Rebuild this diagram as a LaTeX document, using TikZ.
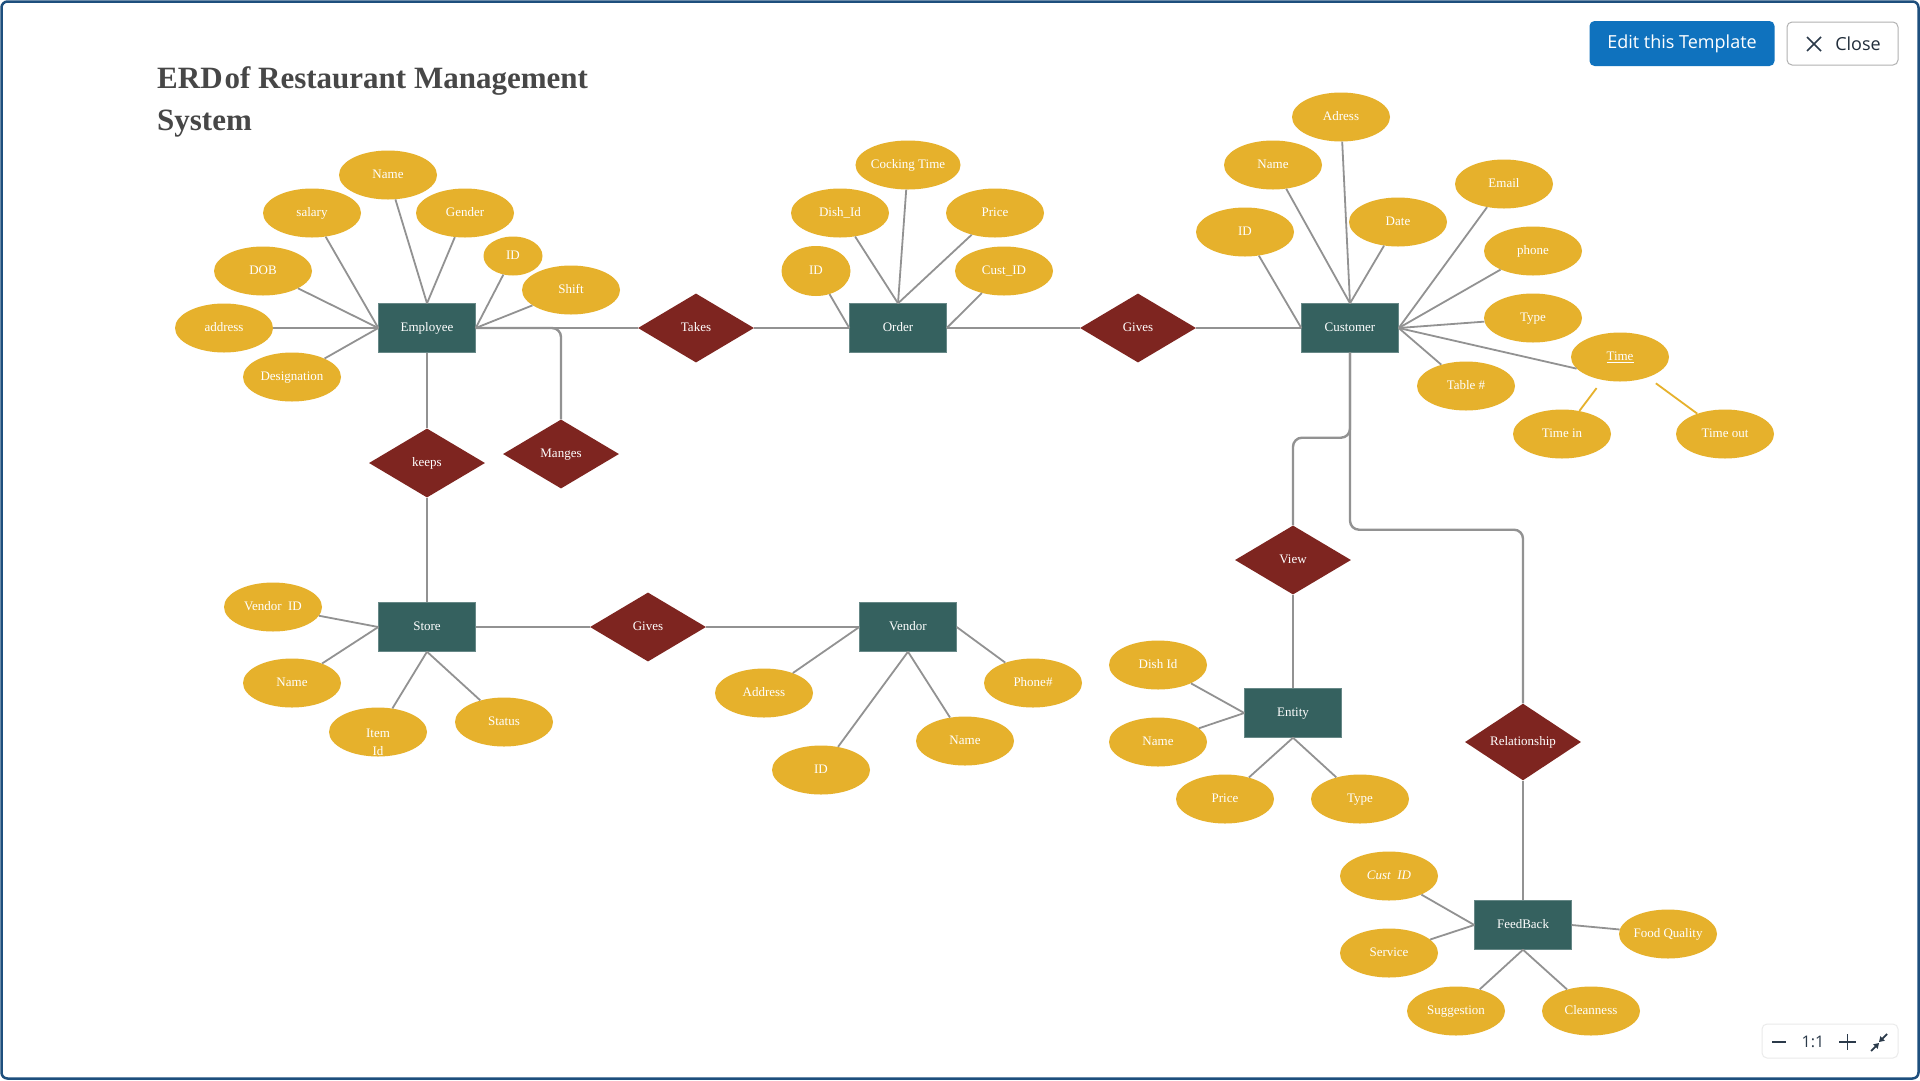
\documentclass[tikz,border=0pt]{standalone}
\usepackage{fontspec}
\setmainfont{Liberation Serif}
\newfontfamily\uifont{Open Sans}
\usetikzlibrary{shapes.geometric}
\usetikzlibrary{arrows.meta}
\usetikzlibrary{calc}
\usetikzlibrary{positioning}
\definecolor{attrgold}{HTML}{E6B12C}
\definecolor{entteal}{HTML}{35615F}
\definecolor{relred}{HTML}{7E2520}
\definecolor{linegray}{HTML}{929292}
\definecolor{btnblue}{HTML}{0F72BE}
\definecolor{frameblue}{HTML}{1E4F7D}
\definecolor{titlegray}{HTML}{474747}
\definecolor{icondark}{HTML}{2B3A4A}
\tikzset{attr node/.style={ellipse,fill=attrgold,text=white,minimum width=98pt,minimum height=49pt,inner sep=0pt,text height=9pt,text depth=2pt,font=\fontsize{13}{16}\selectfont},}
\tikzset{entity node/.style={rectangle,fill=entteal,draw=entteal!75!white,text=white,minimum width=97pt,minimum height=49pt,inner sep=0pt,text height=9pt,text depth=2pt,font=\fontsize{13}{16}\selectfont},}
\tikzset{rel node/.style={diamond,fill=relred,text=white,minimum width=116pt,minimum height=69pt,inner sep=0pt,text height=9pt,text depth=2pt,font=\fontsize{13}{16}\selectfont},}
\tikzset{attr line/.style={draw=linegray,line width=1.8pt},}
\tikzset{rel line/.style={draw=linegray,line width=2.4pt,rounded corners=9pt},}
\tikzset{sub line/.style={draw=attrgold,line width=1.8pt,shorten >=10pt},}
\tikzset{title text/.style={text=titlegray,inner sep=0pt,font=\bfseries\fontsize{31}{44}\selectfont},}
\tikzset{icon line/.style={draw=icondark,line width=1.8pt},}

\begin{document}
\begin{tikzpicture}[x=1pt,y=-1pt]
  \useasboundingbox (0,0) rectangle (1920,1080);
  \fill[white] (0,0) rectangle (1920,1080);
  \draw[frameblue,line width=2.5pt,rounded corners=6pt] (1.5,1.5) rectangle (1918.5,1078.5);

  % title
  \node[title text,anchor=base west] (title1) at (157,88) {ERD\kern2pt of Restaurant Management};
  \node[title text,anchor=base west] (title2) at (157,130) {System};

  % buttons and zoom bar
  \node[fill=btnblue,rounded corners=5pt,minimum width=185pt,minimum height=45pt,text=white,
        font=\uifont\fontsize{18}{20}\selectfont] (editbtn) at (1682,43.5) {Edit this Template};
  \node[fill=white,draw=black!30,line width=1pt,rounded corners=5pt,minimum width=111pt,minimum height=43pt] (closebtn) at (1842.5,43.5) {};
  \coordinate (closex) at (1814,44);
  \draw[icon line,line width=1.6pt] ($(closex)+(-7,-7)$) -- ($(closex)+(7,7)$) ($(closex)+(7,-7)$) -- ($(closex)+(-7,7)$);
  \node[text=icondark!80!black,inner sep=0pt,font=\uifont\fontsize{18}{20}\selectfont] (closetext) at (1858,44) {Close};
  \node[fill=white,draw=black!8,line width=1pt,rounded corners=5pt,minimum width=136pt,minimum height=34pt] (zoombar) at (1830,1041) {};
  \draw[icon line] (1772,1042) -- (1786,1042);
  \node[text=icondark,inner sep=0pt,font=\uifont\fontsize{16}{18}\selectfont] (zoomone) at (1813,1042) {1:1};
  \draw[icon line] (1839,1042) -- (1856,1042) (1847.5,1034) -- (1847.5,1050);
  \draw[icon line,-{Triangle[length=5pt,width=6pt]}] (1887,1034) -- (1879,1042);
  \draw[icon line,-{Triangle[length=5pt,width=6pt]}] (1871,1051) -- (1879,1043);

  % entities
  \node[entity node] (emp) at (427,328) {Employee};
  \node[entity node] (ord) at (898,328) {Order};
  \node[entity node] (cust) at (1350,328) {Customer};
  \node[entity node] (store) at (427,627) {Store};
  \node[entity node] (vend) at (908,627) {Vendor};
  \node[entity node] (ent) at (1293,713) {Entity};
  \node[entity node] (fb) at (1523,925) {FeedBack};

  % relationships
  \node[rel node] (takes) at (696,328) {Takes};
  \node[rel node] (gives) at (1138,328) {Gives};
  \node[rel node] (keeps) at (427,463) {keeps};
  \node[rel node] (manges) at (561,454) {Manges};
  \node[rel node] (givesv) at (648,627) {Gives};
  \node[rel node] (view) at (1293,560) {View};
  \node[rel node] (relship) at (1523,742) {Relationship};

  \draw[rel line] (emp.east) -- (takes.west);
  \draw[rel line] (takes.east) -- (ord.west);
  \draw[rel line] (ord.east) -- (gives.west);
  \draw[rel line] (gives.east) -- (cust.west);
  \draw[rel line] (emp.east) -| (manges.north);
  \draw[rel line] (emp.south) -- (keeps.north);
  \draw[rel line] (keeps.south) -- (store.north);
  \draw[rel line] (store.east) -- (givesv.west);
  \draw[rel line] (givesv.east) -- (vend.west);
  \draw[rel line] (cust.south) -- ++(0,85) -| (view.north);
  \draw[rel line] (view.south) -- (ent.north);
  \draw[rel line] (cust.south) -- ++(0,177) -| (relship.north);
  \draw[rel line] (relship.south) -- (fb.north);

  % employee attributes
  \node[attr node] (ename) at (388,175) {Name};
  \node[attr node] (esal) at (312,213) {salary};
  \node[attr node] (egen) at (465,213) {Gender};
  \node[attr node] (edob) at (263,271) {DOB};
  \node[attr node,minimum width=59pt,minimum height=39pt] (eid) at (513,256) {ID};
  \node[attr node] (eshift) at (571,290) {Shift};
  \node[attr node] (eaddr) at (224,328) {address};
  \node[attr node] (edesig) at (292,377) {Designation};
  \path[attr line]
  (ename) edge (emp.north)
  (egen) edge (emp.north)
  (esal) edge (emp.west)
  (edob) edge (emp.west)
  (eaddr) edge (emp.west)
  (edesig) edge (emp.west)
  (eid) edge (emp.east)
  (eshift) edge (emp.east);

  % order attributes
  \node[attr node,minimum width=69pt,minimum height=50pt] (oid) at (816,271) {ID};
  \node[attr node] (odish) at (840,213) {Dish\_Id};
  \node[attr node] (ocook) at (908,165) {Cocking Time};
  \node[attr node] (oprice) at (995,213) {Price};
  \node[attr node] (ocust) at (1004,271) {Cust\_ID};
  \path[attr line]
  (oid) edge (ord.west)
  (odish) edge (ord.north)
  (ocook) edge (ord.north)
  (oprice) edge (ord.north)
  (ocust) edge (ord.east);

  % customer attributes
  \node[attr node] (cadr) at (1341,117) {Adress};
  \node[attr node] (cname) at (1273,165) {Name};
  \node[attr node] (cid) at (1245,232) {ID};
  \node[attr node] (cdate) at (1398,222) {Date};
  \node[attr node] (cemail) at (1504,184) {Email};
  \node[attr node] (cphone) at (1533,251) {phone};
  \node[attr node] (ctype) at (1533,318) {Type};
  \node[attr node] (ctime) at (1620,357) {\underline{Time}};
  \node[attr node] (ctable) at (1466,386) {Table \#};
  \node[attr node] (ctin) at (1562,434) {Time in};
  \node[attr node] (ctout) at (1725,434) {Time out};
  \path[attr line]
  (cid) edge (cust.west)
  (cname) edge (cust.north)
  (cadr) edge (cust.north)
  (cdate) edge (cust.north)
  (cemail) edge (cust.east)
  (cphone) edge (cust.east)
  (ctype) edge (cust.east)
  (ctable) edge (cust.east);
  \draw[attr line] (ctime.195) -- (cust.east);
  \draw[sub line] (ctin) -- (ctime);
  \draw[sub line] (ctout) -- (ctime);

  % store attributes
  \node[attr node] (svid) at (273,607) {Vendor\enspace ID};
  \node[attr node] (sname) at (292,683) {Name};
  \node[attr node] (sitem) at (378,732) {};
  \node[text=white,align=center,inner sep=0pt,font=\fontsize{13}{18}\selectfont] (sitemtext) at (378,742) {Item\\Id};
  \node[attr node] (sstatus) at (504,722) {Status};
  \path[attr line]
  (svid) edge (store.west)
  (sname) edge (store.west)
  (sitem) edge (store.south)
  (sstatus) edge (store.south);

  % vendor attributes
  \node[attr node] (vaddr) at (764,693) {Address};
  \node[attr node] (vid) at (821,770) {ID};
  \node[attr node] (vname) at (965,741) {Name};
  \node[attr node] (vphone) at (1033,683) {Phone\#};
  \path[attr line]
  (vaddr) edge (vend.west)
  (vid) edge (vend.south)
  (vname) edge (vend.south)
  (vphone) edge (vend.east);

  % entity attributes
  \node[attr node] (ndish) at (1158,665) {Dish Id};
  \node[attr node] (nname) at (1158,742) {Name};
  \node[attr node] (nprice) at (1225,799) {Price};
  \node[attr node] (ntype) at (1360,799) {Type};
  \path[attr line]
  (ndish) edge (ent.west)
  (nname) edge (ent.west)
  (nprice) edge (ent.south)
  (ntype) edge (ent.south);

  % feedback attributes
  \node[attr node] (fcust) at (1389,876) {\itshape Cust\enspace ID};
  \node[attr node] (fserv) at (1389,953) {Service};
  \node[attr node] (fsugg) at (1456,1011) {Suggestion};
  \node[attr node] (fclean) at (1591,1011) {Cleanness};
  \node[attr node] (ffood) at (1668,934) {Food Quality};
  \path[attr line]
  (fcust) edge (fb.west)
  (fserv) edge (fb.west)
  (fsugg) edge (fb.south)
  (fclean) edge (fb.south)
  (ffood) edge (fb.east);
\end{tikzpicture}
\end{document}
